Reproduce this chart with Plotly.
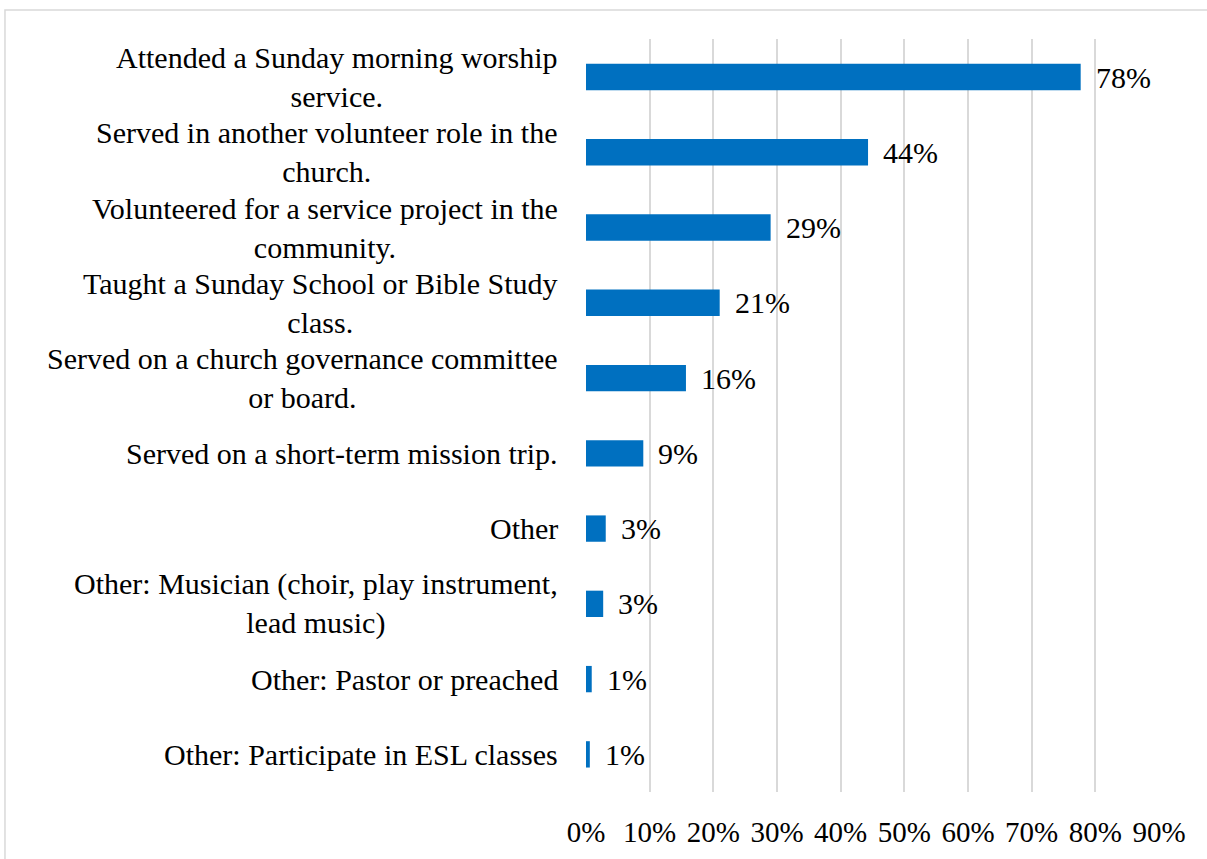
import plotly.graph_objects as go

categories = [
    "Attended a Sunday morning worship<br>service.",
    "Served in another volunteer role in the<br>church.",
    "Volunteered for a service project in the<br>community.",
    "Taught a Sunday School or Bible Study<br>class.",
    "Served on a church governance committee<br>or board.",
    "Served on a short-term mission trip.",
    "Other",
    "Other: Musician (choir, play instrument,<br>lead music)",
    "Other: Pastor or preached",
    "Other: Participate in ESL classes",
]
values = [77.7, 44.3, 29.0, 21.0, 15.7, 9.0, 3.1, 2.7, 0.9, 0.6]
value_labels = ["78%", "44%", "29%", "21%", "16%", "9%", "3%", "3%", "1%", "1%"]
tick_values = [0, 10, 20, 30, 40, 50, 60, 70, 80, 90]
tick_labels = ["0%", "10%", "20%", "30%", "40%", "50%", "60%", "70%", "80%", "90%"]

FONT = "Liberation Serif"
BAR_COLOR = "#0070C0"
GRID = "#d9d9d9"

fig = go.Figure(
    go.Bar(
        x=values,
        y=categories,
        orientation="h",
        marker=dict(color=BAR_COLOR, line=dict(width=0)),
        width=0.35,
        hoverinfo="skip",
    )
)

annotations = []
for cat in categories:
    annotations.append(dict(
        x=0, y=cat, xref="x", yref="y", text=cat, showarrow=False,
        xanchor="right", yanchor="middle", align="center", xshift=-26,
        font=dict(family=FONT, size=30, color="#000000"),
    ))
for cat, v, lab in zip(categories, values, value_labels):
    annotations.append(dict(
        x=v, y=cat, xref="x", yref="y", text=lab, showarrow=False,
        xanchor="left", yanchor="middle", xshift=13,
        font=dict(family=FONT, size=30, color="#000000"),
    ))

fig.update_layout(
    width=1207,
    height=859,
    margin=dict(l=586, r=48, t=39, b=67),
    paper_bgcolor="#ffffff",
    plot_bgcolor="#ffffff",
    showlegend=False,
    font=dict(family=FONT, size=29, color="#000000"),
    annotations=annotations,
    shapes=[dict(
        type="rect", xref="paper", yref="paper",
        x0=-1.014, x1=1.2, y0=-0.2, y1=1.0385,
        line=dict(color="#d9d9d9", width=1.5), fillcolor="rgba(0,0,0,0)",
        layer="below",
    )],
)
fig.update_xaxes(
    range=[0, 90],
    tickvals=tick_values,
    ticktext=tick_labels,
    showgrid=True,
    gridcolor=GRID,
    gridwidth=1.5,
    zeroline=False,
    showline=False,
    ticks="",
    ticklabelstandoff=20,
    tickfont=dict(family=FONT, size=29, color="#000000"),
    fixedrange=True,
)
fig.update_yaxes(
    autorange="reversed",
    showticklabels=False,
    showgrid=False,
    zeroline=False,
    showline=False,
    ticks="",
    fixedrange=True,
)

fig.write_html(
    "out.html",
    config={"displayModeBar": False},
    post_script="document.body.style.margin='0';document.body.style.overflow='hidden';",
)
